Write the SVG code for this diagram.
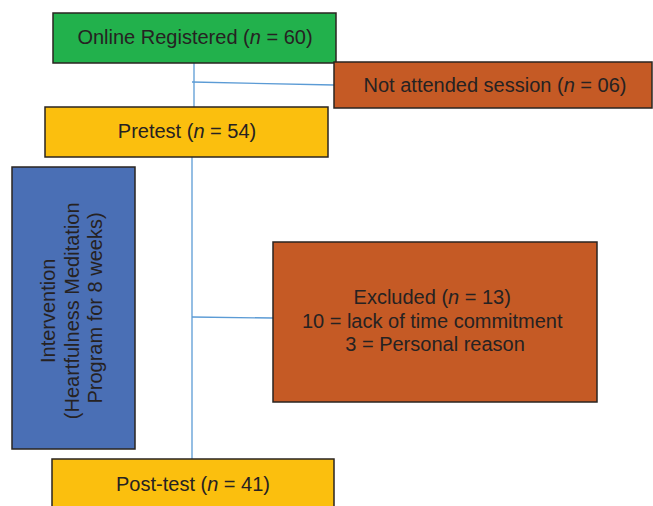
<svg xmlns="http://www.w3.org/2000/svg" width="653" height="506" viewBox="0 0 653 506">
<style>
.box{stroke:#2a2420;stroke-width:1.5}
.t{font-family:"Liberation Sans",Arial,sans-serif;font-size:20px;fill:#262222;text-anchor:middle}
.c{stroke:#5b9bd5;stroke-width:1.3;fill:none}
</style>
<rect width="653" height="506" fill="#ffffff"/>
<g id="connectors">
<line class="c" x1="194" y1="60" x2="194" y2="107"/>
<line class="c" x1="192" y1="82" x2="334" y2="85"/>
<line class="c" x1="192" y1="157" x2="192" y2="459"/>
<line class="c" x1="192" y1="317" x2="273" y2="318"/>
</g>
<g id="online">
<rect class="box" x="53" y="13" width="283" height="50" fill="#22b14c"/>
<text class="t" x="195" y="44">Online Registered (<tspan font-style="italic">n</tspan> = 60)</text>
</g>
<g id="notattended">
<rect class="box" x="334" y="62" width="318" height="46" fill="#c55a25"/>
<text class="t" x="495" y="92">Not attended session (<tspan font-style="italic">n</tspan> = 06)</text>
</g>
<g id="pretest">
<rect class="box" x="45" y="107" width="283" height="50" fill="#fbbf0e"/>
<text class="t" x="187" y="138">Pretest (<tspan font-style="italic">n</tspan> = 54)</text>
</g>
<g id="intervention">
<rect class="box" x="12" y="167" width="123" height="282" fill="#4a6fb5"/>
<text class="t" transform="translate(55,308) rotate(-90)">
<tspan x="0" y="0">Intervention</tspan>
<tspan x="0" y="23.5">(Heartfulness Meditation</tspan>
<tspan x="0" y="47">Program for 8 weeks)</tspan>
</text>
</g>
<g id="excluded">
<rect class="box" x="273" y="242" width="324" height="160" fill="#c55a25"/>
<text class="t">
<tspan x="435" y="304">Excluded (<tspan font-style="italic">n</tspan> = 13)</tspan>
<tspan x="435" y="327.5">10 = lack of time commitment</tspan>
<tspan x="435" y="351">3 = Personal reason</tspan>
</text>
</g>
<g id="posttest">
<rect class="box" x="52" y="459" width="282" height="60" fill="#fbbf0e"/>
<text class="t" x="193" y="491">Post-test (<tspan font-style="italic">n</tspan> = 41)</text>
</g>
</svg>
